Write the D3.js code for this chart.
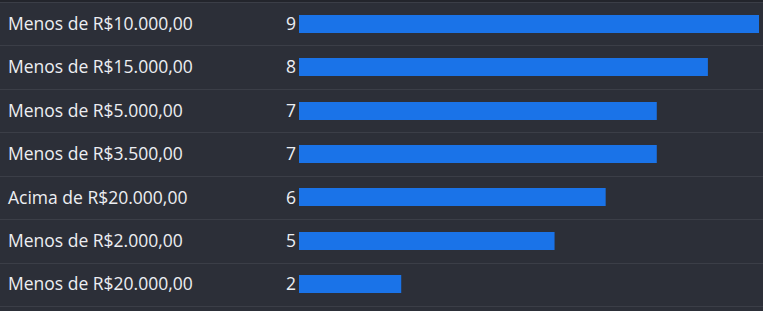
<!DOCTYPE html>
<html>
<head>
<meta charset="utf-8">
<script src="https://cdn.jsdelivr.net/npm/d3@7"></script>
<style>
  html, body { margin: 0; padding: 0; background: #2c2f38; }
  svg { display: block; }
  text { font-family: "Open Sans", "Noto Sans", sans-serif; fill: #eceef2; font-weight: 500; }
</style>
</head>
<body>
<div id="chart"></div>
<script>
const categories = [
  'Menos de R$10.000,00',
  'Menos de R$15.000,00',
  'Menos de R$5.000,00',
  'Menos de R$3.500,00',
  'Acima de R$20.000,00',
  'Menos de R$2.000,00',
  'Menos de R$20.000,00'
];
const values = [9, 8, 7, 7, 6, 5, 2];

const width = 763;
const height = 311;

const svg = d3.select('#chart').append('svg')
  .attr('width', width).attr('height', height);

svg.append('rect').attr('width', width).attr('height', height).attr('fill', '#2c2f38');
svg.append('rect').attr('width', width).attr('height', 2).attr('fill', '#23252c');

const y = d3.scaleBand()
  .domain(categories)
  .range([2, 306])
  .paddingInner(0)
  .paddingOuter(0);

const x = d3.scaleLinear()
  .domain([0, d3.max(values)])
  .range([299, 759]);

const rows = categories.map((c, i) => ({ key: c, value: values[i] }));

// row separators
svg.append('g').selectAll('line')
  .data(categories.concat(['__end']))
  .join('line')
  .attr('x1', 0).attr('x2', width)
  .attr('y1', (d, i) => Math.round(y.range()[0] + i * y.step()) + 0.5)
  .attr('y2', (d, i) => Math.round(y.range()[0] + i * y.step()) + 0.5)
  .attr('stroke', '#3b3e47')
  .attr('stroke-width', 1);

const barH = 18;

svg.append('g').selectAll('rect')
  .data(rows)
  .join('rect')
  .attr('x', x(0))
  .attr('y', d => Math.round(y(d.key) + y.bandwidth() / 2 - barH / 2))
  .attr('width', d => x(d.value) - x(0))
  .attr('height', barH)
  .attr('fill', '#1a73e8');

svg.append('g').selectAll('text')
  .data(rows)
  .join('text')
  .attr('x', 8)
  .attr('y', d => y(d.key) + y.bandwidth() / 2)
  .attr('dy', '0.35em')
  .attr('font-size', 17.5)
  .text(d => d.key);

svg.append('g').selectAll('text')
  .data(rows)
  .join('text')
  .attr('x', x(0) - 3)
  .attr('y', d => y(d.key) + y.bandwidth() / 2)
  .attr('dy', '0.35em')
  .attr('text-anchor', 'end')
  .attr('font-size', 17.5)
  .text(d => d.value);
</script>
</body>
</html>
